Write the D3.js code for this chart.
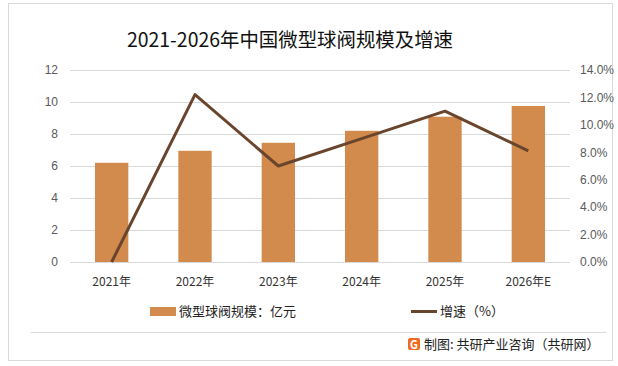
<!DOCTYPE html>
<html>
<head>
<meta charset="utf-8">
<script src="https://cdn.jsdelivr.net/npm/d3@7"></script>
<style>
  body { margin: 0; background: #fff; }
  svg text { font-family: "Microsoft YaHei", "Noto Sans CJK SC", sans-serif; }
</style>
</head>
<body>
<div id="vis"></div>
<script>
// data
const years = ['2021年', '2022年', '2023年', '2024年', '2025年', '2026年E'];
const scale = [6.2, 6.95, 7.45, 8.2, 9.08, 9.75];      // 亿元
const growth = [0, 12.2, 7.0, 9.0, 11.0, 8.1];          // %
const leftTicks = [0, 2, 4, 6, 8, 10, 12];
const rightTicks = [0, 2, 4, 6, 8, 10, 12, 14];

const width = 618, height = 366;
const barColor = '#d38b4d', lineColor = '#68452c';

const svg = d3.select('#vis').append('svg')
  .attr('width', width).attr('height', height);

// outer frame
svg.append('rect')
  .attr('x', 8.5).attr('y', 3.5).attr('width', 604).attr('height', 357)
  .attr('fill', '#fff').attr('stroke', '#d9d9d9');

const plot = { left: 70, right: 570, top: 70, bottom: 262 };

const x = d3.scaleBand().domain(years).range([plot.left, plot.right]).paddingInner(0.6).paddingOuter(0.3);
const xc = d => x(d) + x.bandwidth() / 2;
const yL = d3.scaleLinear().domain([0, 12]).range([plot.bottom, plot.top]);
const yR = d3.scaleLinear().domain([0, 14]).range([plot.bottom, plot.top]);

// title
svg.append('text')
  .attr('x', 127).attr('y', 46.5)
  .attr('font-size', 19.5).attr('fill', '#111')
  .attr('textLength', 326).attr('lengthAdjust', 'spacingAndGlyphs')
  .text('2021-2026年中国微型球阀规模及增速');

// gridlines
svg.append('g').selectAll('line').data(leftTicks).join('line')
  .attr('x1', plot.left).attr('x2', plot.right)
  .attr('y1', d => Math.round(yL(d)) + 0.5).attr('y2', d => Math.round(yL(d)) + 0.5)
  .attr('stroke', '#d9d9d9');

// left axis
const axL = svg.append('g').attr('transform', `translate(${plot.left},0)`)
  .call(d3.axisLeft(yL).tickValues(leftTicks).tickSize(0).tickPadding(12));
axL.select('.domain').remove();
axL.selectAll('text').attr('font-size', 12).attr('fill', '#595959')
  .style('font-family', '"Liberation Sans", Arial, sans-serif');

// right axis
const axR = svg.append('g').attr('transform', `translate(${plot.right},0)`)
  .call(d3.axisRight(yR).tickValues(rightTicks).tickSize(0).tickPadding(10).tickFormat(d => d.toFixed(1) + '%'));
axR.select('.domain').remove();
axR.selectAll('text').attr('font-size', 12).attr('fill', '#595959')
  .style('font-family', '"Liberation Sans", Arial, sans-serif');

// bottom axis labels
const axB = svg.append('g').attr('transform', `translate(0,${plot.bottom})`)
  .call(d3.axisBottom(x).tickSize(0).tickPadding(15));
axB.select('.domain').remove();
axB.selectAll('text').attr('font-size', 12).attr('fill', '#333');

// bars
svg.append('g').selectAll('rect').data(scale).join('rect')
  .attr('x', (d, i) => x(years[i]))
  .attr('y', d => yL(d))
  .attr('width', x.bandwidth())
  .attr('height', d => yL(0) - yL(d))
  .attr('fill', barColor);

// growth line
const line = d3.line().x((d, i) => xc(years[i])).y(d => yR(d));
svg.append('path').datum(growth)
  .attr('d', line).attr('fill', 'none')
  .attr('stroke', lineColor).attr('stroke-width', 3).attr('stroke-linejoin', 'round');

// legend
const lg = svg.append('g');
lg.append('rect').attr('x', 150).attr('y', 307).attr('width', 26).attr('height', 9).attr('fill', barColor);
lg.append('text').attr('x', 179).attr('y', 316).attr('font-size', 13).attr('fill', '#222').text('微型球阀规模：亿元');
lg.append('line').attr('x1', 411).attr('x2', 437).attr('y1', 311.5).attr('y2', 311.5)
  .attr('stroke', lineColor).attr('stroke-width', 3);
lg.append('text').attr('x', 440).attr('y', 316).attr('font-size', 13).attr('fill', '#222').text('增速（%）');

// separator + source
svg.append('line').attr('x1', 31).attr('x2', 606).attr('y1', 332.5).attr('y2', 332.5).attr('stroke', '#d9d9d9');
const icon = svg.append('g').attr('transform', 'translate(408,338)');
icon.append('rect').attr('width', 12).attr('height', 12).attr('rx', 2).attr('fill', '#f26a21');
icon.append('text').attr('x', 6).attr('y', 10.5).attr('text-anchor', 'middle')
  .attr('font-size', 11).attr('font-weight', 'bold').attr('fill', '#fff').text('G');
svg.append('text').attr('x', 424).attr('y', 349).attr('font-size', 13).attr('fill', '#222')
  .text('制图: 共研产业咨询（共研网）');
</script>
</body>
</html>
